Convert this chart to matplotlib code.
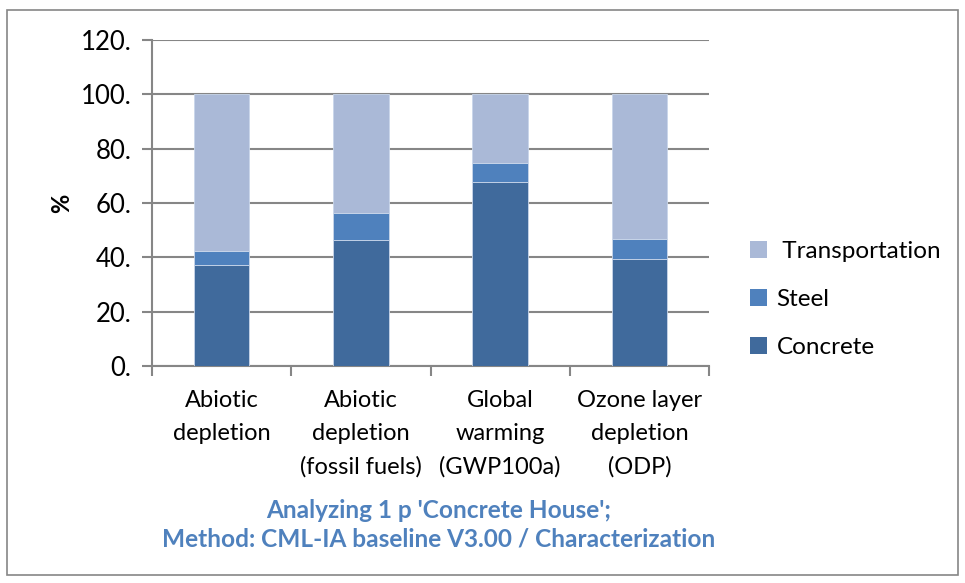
import matplotlib
matplotlib.use("Agg")
import matplotlib.pyplot as plt
from matplotlib.patches import Rectangle, Patch
import numpy as np

categories = ["Abiotic\ndepletion", "Abiotic\ndepletion\n(fossil fuels)",
              "Global\nwarming\n(GWP100a)", "Ozone layer\ndepletion\n(ODP)"]
concrete = [37.2, 46.3, 67.9, 39.3]
steel = [5.3, 9.9, 6.9, 7.6]
transportation = [57.5, 43.8, 25.2, 53.1]
series_names = ["Concrete", "Steel", " Transportation"]
y_ticks = [0, 20, 40, 60, 80, 100, 120]
y_tick_labels = ["0.", "20.", "40.", "60.", "80.", "100.", "120."]
title_lines = "Analyzing 1 p 'Concrete House';\nMethod: CML-IA baseline V3.00 / Characterization"

colors = ["#406A9C", "#4F81BD", "#AAB9D7"]
grid_c = "#868686"
FONT = ["Lato", "DejaVu Sans"]
plt.rcParams['font.family'] = FONT

W, H = 965, 583
fig = plt.figure(figsize=(W / 100, H / 100), dpi=100)
ax = fig.add_axes([152 / W, 1 - 366 / H, (709 - 152) / W, (366 - 40) / H])

x = np.arange(len(categories))
width = 0.40
b0 = np.zeros(len(categories))
handles = []
for vals, name, c in zip([concrete, steel, transportation], series_names, colors):
    ax.bar(x, vals, width, bottom=b0, color=c, edgecolor="#C9D6EA",
           linewidth=0.6, label=name, zorder=3)
    b0 = b0 + np.array(vals)
    handles.append(Patch(facecolor=c, edgecolor="none", label=name))

ax.set_xlim(-0.5, len(categories) - 0.5)
ax.set_ylim(0, 120)
ax.set_yticks(y_ticks)
ax.set_yticklabels(y_tick_labels, fontsize=18.5)
ax.yaxis.grid(True, color=grid_c, linewidth=1.5, zorder=0)
ax.set_axisbelow(True)

ax.set_xticks(np.arange(-0.5, len(categories), 1.0))
ax.set_xticklabels([])
ax.set_xticks(x, minor=True)
ax.set_xticklabels(categories, minor=True, fontsize=17, linespacing=1.72)
ax.tick_params(axis="x", which="major", length=7, width=1.5, color=grid_c, direction="out")
ax.tick_params(axis="x", which="minor", length=0, pad=17)
ax.tick_params(axis="y", length=7, width=1.5, color=grid_c, direction="out", pad=8)

for s in ["top", "right"]:
    ax.spines[s].set_visible(False)
for s in ["left", "bottom"]:
    ax.spines[s].set_color(grid_c)
    ax.spines[s].set_linewidth(1.5)

ax.set_ylabel("%", fontsize=17, fontweight="bold", labelpad=5)

fig.text(439 / W, 1 - 525 / H, title_lines, ha="center", va="center",
         fontsize=17.6, fontweight="bold", color="#4F81BD", linespacing=1.3)

leg = fig.legend(handles=handles[::-1], loc="upper left",
                 bbox_to_anchor=(738 / W, 1 - 229 / H), frameon=False,
                 fontsize=17.5, handlelength=0.7, handleheight=0.7,
                 handletextpad=0.38, labelspacing=1.1, borderpad=0)

fig.add_artist(Rectangle((7 / W, 1 - 575 / H), (958 - 7) / W, (575 - 10) / H,
                         transform=fig.transFigure, fill=False,
                         edgecolor=grid_c, linewidth=1.2))

fig.savefig("out.png", dpi=100)
